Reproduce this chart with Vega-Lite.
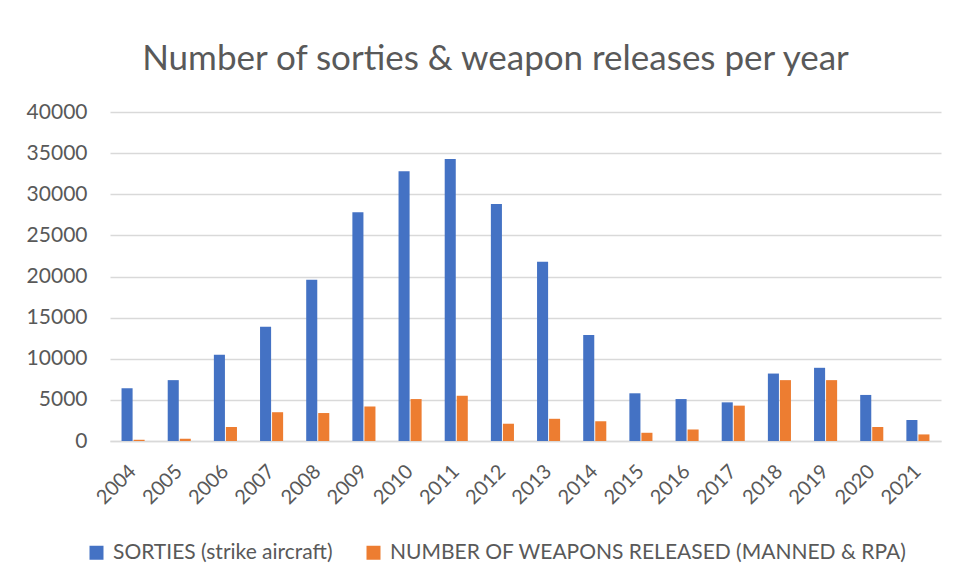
{
  "$schema": "https://vega.github.io/schema/vega-lite/v6.json",
  "autosize": "none",
  "width": 831,
  "height": 329,
  "padding": {"left": 110, "top": 112, "right": 13, "bottom": 141},
  "background": "white",
  "title": {
    "text": "Number of sorties & weapon releases per year",
    "font": "Lato",
    "fontSize": 35,
    "fontWeight": "normal",
    "color": "#595959",
    "anchor": "middle",
    "dx": -30,
    "offset": 24
  },
  "data": {
    "values": [
      {"year": "2004", "series": "SORTIES (strike aircraft)", "value": 6400},
      {"year": "2005", "series": "SORTIES (strike aircraft)", "value": 7400},
      {"year": "2006", "series": "SORTIES (strike aircraft)", "value": 10500},
      {"year": "2007", "series": "SORTIES (strike aircraft)", "value": 13900},
      {"year": "2008", "series": "SORTIES (strike aircraft)", "value": 19600},
      {"year": "2009", "series": "SORTIES (strike aircraft)", "value": 27800},
      {"year": "2010", "series": "SORTIES (strike aircraft)", "value": 32800},
      {"year": "2011", "series": "SORTIES (strike aircraft)", "value": 34300},
      {"year": "2012", "series": "SORTIES (strike aircraft)", "value": 28800},
      {"year": "2013", "series": "SORTIES (strike aircraft)", "value": 21800},
      {"year": "2014", "series": "SORTIES (strike aircraft)", "value": 12900},
      {"year": "2015", "series": "SORTIES (strike aircraft)", "value": 5800},
      {"year": "2016", "series": "SORTIES (strike aircraft)", "value": 5100},
      {"year": "2017", "series": "SORTIES (strike aircraft)", "value": 4700},
      {"year": "2018", "series": "SORTIES (strike aircraft)", "value": 8200},
      {"year": "2019", "series": "SORTIES (strike aircraft)", "value": 8900},
      {"year": "2020", "series": "SORTIES (strike aircraft)", "value": 5600},
      {"year": "2021", "series": "SORTIES (strike aircraft)", "value": 2550},
      {"year": "2004", "series": "NUMBER OF  WEAPONS RELEASED (MANNED & RPA)", "value": 150},
      {"year": "2005", "series": "NUMBER OF  WEAPONS RELEASED (MANNED & RPA)", "value": 280},
      {"year": "2006", "series": "NUMBER OF  WEAPONS RELEASED (MANNED & RPA)", "value": 1700},
      {"year": "2007", "series": "NUMBER OF  WEAPONS RELEASED (MANNED & RPA)", "value": 3500},
      {"year": "2008", "series": "NUMBER OF  WEAPONS RELEASED (MANNED & RPA)", "value": 3400},
      {"year": "2009", "series": "NUMBER OF  WEAPONS RELEASED (MANNED & RPA)", "value": 4200},
      {"year": "2010", "series": "NUMBER OF  WEAPONS RELEASED (MANNED & RPA)", "value": 5100},
      {"year": "2011", "series": "NUMBER OF  WEAPONS RELEASED (MANNED & RPA)", "value": 5500},
      {"year": "2012", "series": "NUMBER OF  WEAPONS RELEASED (MANNED & RPA)", "value": 2100},
      {"year": "2013", "series": "NUMBER OF  WEAPONS RELEASED (MANNED & RPA)", "value": 2700},
      {"year": "2014", "series": "NUMBER OF  WEAPONS RELEASED (MANNED & RPA)", "value": 2400},
      {"year": "2015", "series": "NUMBER OF  WEAPONS RELEASED (MANNED & RPA)", "value": 1000},
      {"year": "2016", "series": "NUMBER OF  WEAPONS RELEASED (MANNED & RPA)", "value": 1400},
      {"year": "2017", "series": "NUMBER OF  WEAPONS RELEASED (MANNED & RPA)", "value": 4300},
      {"year": "2018", "series": "NUMBER OF  WEAPONS RELEASED (MANNED & RPA)", "value": 7400},
      {"year": "2019", "series": "NUMBER OF  WEAPONS RELEASED (MANNED & RPA)", "value": 7400},
      {"year": "2020", "series": "NUMBER OF  WEAPONS RELEASED (MANNED & RPA)", "value": 1700},
      {"year": "2021", "series": "NUMBER OF  WEAPONS RELEASED (MANNED & RPA)", "value": 800}
    ]
  },
  "mark": {"type": "bar"},
  "encoding": {
    "x": {
      "field": "year",
      "type": "nominal",
      "scale": {"paddingInner": 0.5, "paddingOuter": 0.25},
      "axis": {
        "title": null,
        "labelAngle": -45,
        "labelAlign": "right",
        "labelBaseline": "middle",
        "labelFont": "Lato",
        "labelFontSize": 20,
        "labelColor": "#595959",
        "labelPadding": 27,
        "labelOverlap": false,
        "ticks": false,
        "domainColor": "#D9D9D9",
        "domainWidth": 1.5
      }
    },
    "xOffset": {
      "field": "series",
      "type": "nominal",
      "sort": ["SORTIES (strike aircraft)", "NUMBER OF  WEAPONS RELEASED (MANNED & RPA)"],
      "scale": {"paddingInner": 0.08}
    },
    "y": {
      "field": "value",
      "type": "quantitative",
      "scale": {"domain": [0, 40000]},
      "axis": {
        "title": null,
        "values": [0, 5000, 10000, 15000, 20000, 25000, 30000, 35000, 40000],
        "format": "d",
        "labelFont": "Lato",
        "labelFontSize": 21,
        "labelColor": "#595959",
        "labelPadding": 23,
        "ticks": false,
        "domain": false,
        "gridColor": "#D9D9D9",
        "gridWidth": 1.5
      }
    },
    "color": {
      "field": "series",
      "type": "nominal",
      "sort": ["SORTIES (strike aircraft)", "NUMBER OF  WEAPONS RELEASED (MANNED & RPA)"],
      "scale": {
        "domain": ["SORTIES (strike aircraft)", "NUMBER OF  WEAPONS RELEASED (MANNED & RPA)"],
        "range": ["#4472C4", "#ED7D31"]
      },
      "legend": {
        "title": null,
        "orient": "none",
        "direction": "horizontal",
        "legendX": -24,
        "legendY": 430,
        "symbolType": "square",
        "symbolSize": 196,
        "symbolStrokeWidth": 0,
        "labelFont": "Lato",
        "labelFontSize": 21,
        "labelColor": "#595959",
        "labelOffset": 6,
        "columnPadding": 30,
        "labelLimit": 600
      }
    }
  },
  "config": {"view": {"stroke": null}}
}
